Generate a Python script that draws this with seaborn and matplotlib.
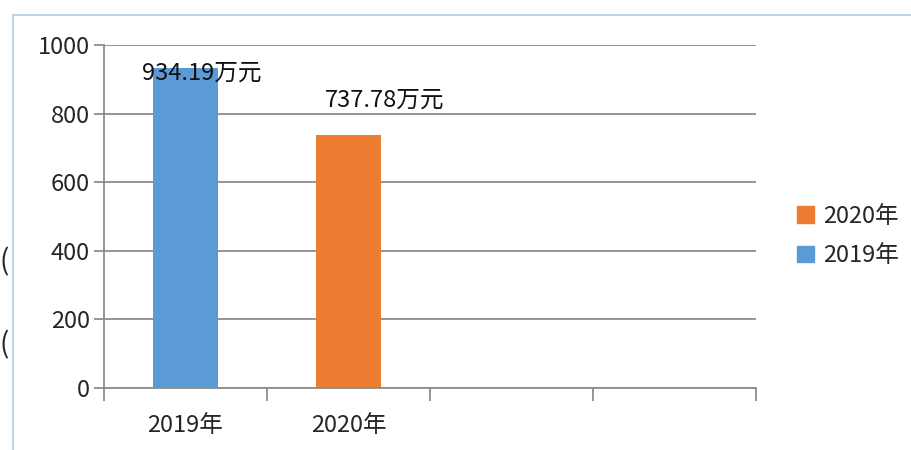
import numpy as np
import pandas as pd
import seaborn as sns
import matplotlib.pyplot as plt
from matplotlib.patches import Rectangle

years = ['2019年', '2020年']
values = [934.19, 737.78]
value_labels = ['934.19万元', '737.78万元']
slots = ['2019年', '2020年', '', ' ']
legend_order = ['2020年', '2019年']
palette = {'2019年': '#5B9BD5', '2020年': '#ED7D31'}

sns.set_style('white')
plt.rcParams['font.family'] = ['Noto Sans CJK SC', 'DejaVu Sans']

df = pd.DataFrame({'year': years, 'value': values})

fig = plt.figure(figsize=(9.12, 4.5), dpi=100)
ax = fig.add_axes([104 / 912, 1 - 388 / 450, (756 - 104) / 912, (388 - 45) / 450])

sns.barplot(df, x='year', y='value', hue='year', order=slots, palette=palette,
            width=0.4, dodge=False, legend=False, saturation=1, linewidth=0, ax=ax)

ax.set_xlim(-0.5, 3.5)
ax.set_ylim(0, 1000)
ax.set_yticks(np.arange(0, 1001, 200))
ax.set_xlabel('')
ax.set_ylabel('')
ax.yaxis.grid(True, color='#8c8c8c', linewidth=1.3)
ax.set_axisbelow(True)
for s in ('top', 'right'):
    ax.spines[s].set_visible(False)
for s in ('left', 'bottom'):
    ax.spines[s].set_color('#8c8c8c')
    ax.spines[s].set_linewidth(1.3)

# category labels centred, tick marks on the slot boundaries
ax.set_xticks(np.arange(-0.5, 4.0, 1.0))
ax.set_xticklabels([])
ax.set_xticks(np.arange(len(slots)), labels=slots, minor=True)
ax.tick_params(axis='x', which='major', bottom=True, length=9, width=1.3,
               color='#8c8c8c', direction='out')
ax.tick_params(axis='x', which='minor', bottom=True, length=0, pad=19, labelsize=17)
ax.tick_params(axis='y', left=True, length=7, width=1.3, color='#8c8c8c',
               direction='out', labelsize=17, pad=3)

# value labels
offsets = [(0.1, 918), (0.22, 840)]
for i, (lab, (dx, yy)) in enumerate(zip(value_labels, offsets)):
    ax.text(i + dx, yy, lab, ha='center', va='center', fontsize=17, color='#111111')

handles = [Rectangle((0, 0), 1, 1, color=palette[y]) for y in legend_order]
fig.legend(handles, legend_order, loc='center left', bbox_to_anchor=(776 / 912, 1 - 236 / 450),
           frameon=False, fontsize=17, handlelength=0.7, handleheight=0.7,
           handletextpad=0.4, labelspacing=0.7)

# light blue frame of the original picture
fig.add_artist(plt.Line2D([13 / 912, 13 / 912], [0, 1 - 15 / 450], transform=fig.transFigure,
                          color='#bcd7ec', linewidth=1.5))
fig.add_artist(plt.Line2D([13 / 912, 1], [1 - 15 / 450, 1 - 15 / 450], transform=fig.transFigure,
                          color='#bcd7ec', linewidth=1.5))
fig.text(0.0, 1 - 262 / 450, '(', fontsize=20, va='center', ha='left')
fig.text(0.0, 1 - 345 / 450, '(', fontsize=20, va='center', ha='left')

fig.savefig('out.png', dpi=100)
